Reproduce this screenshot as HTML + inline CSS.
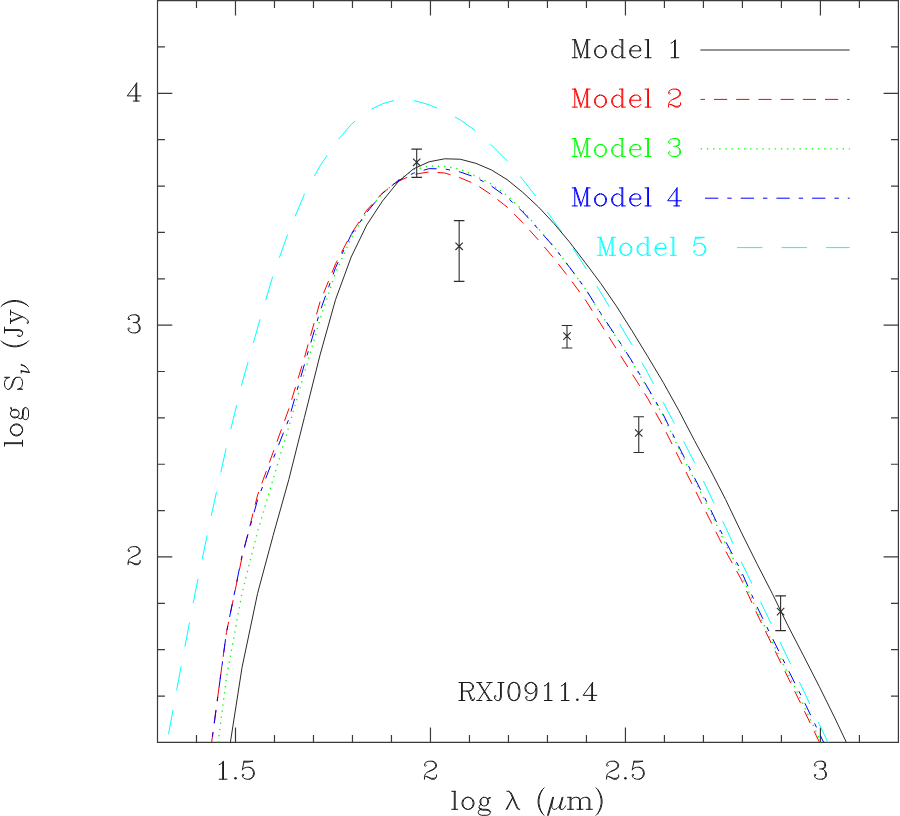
<!DOCTYPE html>
<html lang="en"><head><meta charset="utf-8"><title>RXJ0911.4 SED models</title>
<style>html,body{margin:0;padding:0;background:#fff;font-family:"Liberation Serif",serif}svg{display:block}</style>
</head><body>
<svg width="900" height="816" viewBox="0 0 900 816">
<rect width="900" height="816" fill="#fff"/>
<path d="M157.5 0.6H898.4V742.4H157.5ZM196.49 742.4v-7.4M196.49 0.6v7.4M235.49 742.4v-14.8M235.49 0.6v14.8M274.48 742.4v-7.4M274.48 0.6v7.4M313.48 742.4v-7.4M313.48 0.6v7.4M352.47 742.4v-7.4M352.47 0.6v7.4M391.47 742.4v-7.4M391.47 0.6v7.4M430.46 742.4v-14.8M430.46 0.6v14.8M469.46 742.4v-7.4M469.46 0.6v7.4M508.45 742.4v-7.4M508.45 0.6v7.4M547.45 742.4v-7.4M547.45 0.6v7.4M586.44 742.4v-7.4M586.44 0.6v7.4M625.44 742.4v-14.8M625.44 0.6v14.8M664.43 742.4v-7.4M664.43 0.6v7.4M703.43 742.4v-7.4M703.43 0.6v7.4M742.42 742.4v-7.4M742.42 0.6v7.4M781.42 742.4v-7.4M781.42 0.6v7.4M820.41 742.4v-14.8M820.41 0.6v14.8M859.41 742.4v-7.4M859.41 0.6v7.4M157.5 696.04h7.4M898.4 696.04h-7.4M157.5 649.67h7.4M898.4 649.67h-7.4M157.5 603.31h7.4M898.4 603.31h-7.4M157.5 556.95h14.8M898.4 556.95h-14.8M157.5 510.59h7.4M898.4 510.59h-7.4M157.5 464.23h7.4M898.4 464.23h-7.4M157.5 417.86h7.4M898.4 417.86h-7.4M157.5 371.5h7.4M898.4 371.5h-7.4M157.5 325.14h14.8M898.4 325.14h-14.8M157.5 278.78h7.4M898.4 278.78h-7.4M157.5 232.41h7.4M898.4 232.41h-7.4M157.5 186.05h7.4M898.4 186.05h-7.4M157.5 139.69h7.4M898.4 139.69h-7.4M157.5 93.33h14.8M898.4 93.33h-14.8M157.5 46.96h7.4M898.4 46.96h-7.4" fill="none" stroke="#3a3a3a" stroke-width="1.2"/>
<g><title>1.5</title><path d="M219.21 764.64 220.92 763.79 223.49 761.22 223.49 779.21M222.63 762.07 222.63 779.21M219.21 779.21 226.92 779.21M244.06 761.22 242.35 769.79M242.35 769.79 244.06 768.07 246.63 767.22 249.2 767.22 251.77 768.07 253.49 769.79 254.34 772.36 254.34 774.07 253.49 776.64 251.77 778.36 249.2 779.21 246.63 779.21 244.06 778.36 243.2 777.5 242.35 775.78 242.35 774.93 243.2 774.07 244.06 774.93 243.2 775.78M249.2 767.22 250.92 768.07 252.63 769.79 253.49 772.36 253.49 774.07 252.63 776.64 250.92 778.36 249.2 779.21M244.06 761.22 252.63 761.22M244.06 762.07 248.34 762.07 252.63 761.22" fill="none" stroke="#1a1a1a" stroke-width="1.0" stroke-linecap="round" stroke-linejoin="round"/><circle cx="235.49" cy="778.36" r="1.25" fill="#1a1a1a"/></g>
<g><title>2</title><path d="M425.32 764.64 426.18 765.5 425.32 766.36 424.46 765.5 424.46 764.64 425.32 762.93 426.18 762.07 428.75 761.22 432.18 761.22 434.75 762.07 435.61 762.93 436.46 764.64 436.46 766.36 435.61 768.07 433.03 769.79 428.75 771.5 427.04 772.36 425.32 774.07 424.46 776.64 424.46 779.21M432.18 761.22 433.89 762.07 434.75 762.93 435.61 764.64 435.61 766.36 434.75 768.07 432.18 769.79 428.75 771.5M424.46 777.5 425.32 776.64 427.04 776.64 431.32 778.36 433.89 778.36 435.61 777.5 436.46 776.64M427.04 776.64 431.32 779.21 434.75 779.21 435.61 778.36 436.46 776.64 436.46 774.93" fill="none" stroke="#1a1a1a" stroke-width="1.0" stroke-linecap="round" stroke-linejoin="round"/></g>
<g><title>2.5</title><path d="M607.44 764.64 608.3 765.5 607.44 766.36 606.58 765.5 606.58 764.64 607.44 762.93 608.3 762.07 610.87 761.22 614.3 761.22 616.87 762.07 617.72 762.93 618.58 764.64 618.58 766.36 617.72 768.07 615.15 769.79 610.87 771.5 609.15 772.36 607.44 774.07 606.58 776.64 606.58 779.21M614.3 761.22 616.01 762.07 616.87 762.93 617.72 764.64 617.72 766.36 616.87 768.07 614.3 769.79 610.87 771.5M606.58 777.5 607.44 776.64 609.15 776.64 613.44 778.36 616.01 778.36 617.72 777.5 618.58 776.64M609.15 776.64 613.44 779.21 616.87 779.21 617.72 778.36 618.58 776.64 618.58 774.93M634.01 761.22 632.29 769.79M632.29 769.79 634.01 768.07 636.58 767.22 639.15 767.22 641.72 768.07 643.43 769.79 644.29 772.36 644.29 774.07 643.43 776.64 641.72 778.36 639.15 779.21 636.58 779.21 634.01 778.36 633.15 777.5 632.29 775.78 632.29 774.93 633.15 774.07 634.01 774.93 633.15 775.78M639.15 767.22 640.86 768.07 642.58 769.79 643.43 772.36 643.43 774.07 642.58 776.64 640.86 778.36 639.15 779.21M634.01 761.22 642.58 761.22M634.01 762.07 638.29 762.07 642.58 761.22" fill="none" stroke="#1a1a1a" stroke-width="1.0" stroke-linecap="round" stroke-linejoin="round"/><circle cx="625.44" cy="778.36" r="1.25" fill="#1a1a1a"/></g>
<g><title>3</title><path d="M815.27 764.64 816.13 765.5 815.27 766.36 814.41 765.5 814.41 764.64 815.27 762.93 816.13 762.07 818.7 761.22 822.12 761.22 824.7 762.07 825.55 763.79 825.55 766.36 824.7 768.07 822.12 768.93 819.55 768.93M822.12 761.22 823.84 762.07 824.7 763.79 824.7 766.36 823.84 768.07 822.12 768.93M822.12 768.93 823.84 769.79 825.55 771.5 826.41 773.21 826.41 775.78 825.55 777.5 824.7 778.36 822.12 779.21 818.7 779.21 816.13 778.36 815.27 777.5 814.41 775.78 814.41 774.93 815.27 774.07 816.13 774.93 815.27 775.78M824.7 770.64 825.55 773.21 825.55 775.78 824.7 777.5 823.84 778.36 822.12 779.21" fill="none" stroke="#1a1a1a" stroke-width="1.0" stroke-linecap="round" stroke-linejoin="round"/></g>
<g><title>2</title><path d="M128.99 550.09 129.84 550.95 128.99 551.81 128.13 550.95 128.13 550.09 128.99 548.38 129.84 547.52 132.42 546.67 135.84 546.67 138.41 547.52 139.27 548.38 140.13 550.09 140.13 551.81 139.27 553.52 136.7 555.24 132.42 556.95 130.7 557.81 128.99 559.52 128.13 562.09 128.13 564.66M135.84 546.67 137.56 547.52 138.41 548.38 139.27 550.09 139.27 551.81 138.41 553.52 135.84 555.24 132.42 556.95M128.13 562.95 128.99 562.09 130.7 562.09 134.99 563.81 137.56 563.81 139.27 562.95 140.13 562.09M130.7 562.09 134.99 564.66 138.41 564.66 139.27 563.81 140.13 562.09 140.13 560.38" fill="none" stroke="#1a1a1a" stroke-width="1.0" stroke-linecap="round" stroke-linejoin="round"/></g>
<g><title>3</title><path d="M128.99 318.28 129.84 319.14 128.99 320 128.13 319.14 128.13 318.28 128.99 316.57 129.84 315.71 132.42 314.85 135.84 314.85 138.41 315.71 139.27 317.42 139.27 320 138.41 321.71 135.84 322.57 133.27 322.57M135.84 314.85 137.56 315.71 138.41 317.42 138.41 320 137.56 321.71 135.84 322.57M135.84 322.57 137.56 323.42 139.27 325.14 140.13 326.85 140.13 329.42 139.27 331.14 138.41 331.99 135.84 332.85 132.42 332.85 129.84 331.99 128.99 331.14 128.13 329.42 128.13 328.57 128.99 327.71 129.84 328.57 128.99 329.42M138.41 324.28 139.27 326.85 139.27 329.42 138.41 331.14 137.56 331.99 135.84 332.85" fill="none" stroke="#1a1a1a" stroke-width="1.0" stroke-linecap="round" stroke-linejoin="round"/></g>
<g><title>4</title><path d="M135.84 84.76 135.84 101.04M136.7 83.04 136.7 101.04M136.7 83.04 127.27 95.9 140.99 95.9M133.27 101.04 139.27 101.04" fill="none" stroke="#1a1a1a" stroke-width="1.0" stroke-linecap="round" stroke-linejoin="round"/></g>
<g><title>log &#955; (&#956;m)</title><path d="M454.3 791.32 454.3 809.31M455.16 791.32 455.16 809.31M451.73 791.32 455.16 791.32M451.73 809.31 457.73 809.31M467.15 797.32 464.58 798.17 462.87 799.89 462.01 802.46 462.01 804.17 462.87 806.74 464.58 808.46 467.15 809.31 468.87 809.31 471.44 808.46 473.15 806.74 474.01 804.17 474.01 802.46 473.15 799.89 471.44 798.17 468.87 797.32 467.15 797.32M467.15 797.32 465.44 798.17 463.73 799.89 462.87 802.46 462.87 804.17 463.73 806.74 465.44 808.46 467.15 809.31M468.87 809.31 470.58 808.46 472.3 806.74 473.15 804.17 473.15 802.46 472.3 799.89 470.58 798.17 468.87 797.32M483.44 797.32 481.72 798.17 480.87 799.03 480.01 800.74 480.01 802.46 480.87 804.17 481.72 805.03 483.44 805.88 485.15 805.88 486.86 805.03 487.72 804.17 488.58 802.46 488.58 800.74 487.72 799.03 486.86 798.17 485.15 797.32 483.44 797.32M481.72 798.17 480.87 799.89 480.87 803.31 481.72 805.03M486.86 805.03 487.72 803.31 487.72 799.89 486.86 798.17M487.72 799.03 488.58 798.17 490.29 797.32 490.29 798.17 488.58 798.17M480.87 804.17 480.01 805.03 479.15 806.74 479.15 807.6 480.01 809.31 482.58 810.17 486.86 810.17 489.44 811.03 490.29 811.88M479.15 807.6 480.01 808.46 482.58 809.31 486.86 809.31 489.44 810.17 490.29 811.88 490.29 812.74 489.44 814.46 486.86 815.31 481.72 815.31 479.15 814.46 478.29 812.74 478.29 811.88 479.15 810.17 481.72 809.31M506.93 791.32 508.65 791.32 510.36 792.17 511.22 793.03 512.07 794.74 517.22 806.74 518.07 808.46 518.93 809.31M508.65 791.32 510.36 793.03 511.22 794.74 516.36 806.74 517.22 808.46 518.93 809.31 519.79 809.31M512.93 797.32 506.08 809.31M512.93 797.32 506.93 809.31M544.13 787.89 542.41 789.6 540.7 792.17 538.98 795.6 538.13 799.89 538.13 803.31 538.98 807.6 540.7 811.03 542.41 813.6 544.13 815.31M542.41 789.6 540.7 793.03 539.84 795.6 538.98 799.89 538.98 803.31 539.84 807.6 540.7 810.17 542.41 813.6M552.7 797.32 547.55 815.31M553.55 797.32 548.41 815.31M552.7 799.89 551.84 805.03 551.84 807.6 553.55 809.31 555.27 809.31 556.98 808.46 558.69 806.74 560.41 804.17M562.12 797.32 559.55 806.74 559.55 808.46 560.41 809.31 562.98 809.31 564.69 807.6 565.55 805.88M562.98 797.32 560.41 806.74 560.41 808.46 561.27 809.31M570.09 797.32 570.09 809.31M570.95 797.32 570.95 809.31M570.95 799.89 572.66 798.17 575.23 797.32 576.95 797.32 579.52 798.17 580.38 799.89 580.38 809.31M576.95 797.32 578.66 798.17 579.52 799.89 579.52 809.31M580.38 799.89 582.09 798.17 584.66 797.32 586.38 797.32 588.95 798.17 589.8 799.89 589.8 809.31M586.38 797.32 588.09 798.17 588.95 799.89 588.95 809.31M567.52 797.32 570.95 797.32M567.52 809.31 573.52 809.31M576.95 809.31 582.95 809.31M586.38 809.31 592.37 809.31M596.06 787.89 597.77 789.6 599.49 792.17 601.2 795.6 602.06 799.89 602.06 803.31 601.2 807.6 599.49 811.03 597.77 813.6 596.06 815.31M597.77 789.6 599.49 793.03 600.34 795.6 601.2 799.89 601.2 803.31 600.34 807.6 599.49 810.17 597.77 813.6" fill="none" stroke="#1a1a1a" stroke-width="1.0" stroke-linecap="round" stroke-linejoin="round"/></g>
<g transform="translate(14.8 372.5) rotate(-90)"><title>log S&#957; (Jy)</title><path d="M-71.13 -10.28 -71.13 7.71M-70.27 -10.28 -70.27 7.71M-73.7 -10.28 -70.27 -10.28M-73.7 7.71 -67.7 7.71M-58.28 -4.29 -60.85 -3.43 -62.56 -1.71 -63.42 0.86 -63.42 2.57 -62.56 5.14 -60.85 6.86 -58.28 7.71 -56.56 7.71 -53.99 6.86 -52.28 5.14 -51.42 2.57 -51.42 0.86 -52.28 -1.71 -53.99 -3.43 -56.56 -4.29 -58.28 -4.29M-58.28 -4.29 -59.99 -3.43 -61.7 -1.71 -62.56 0.86 -62.56 2.57 -61.7 5.14 -59.99 6.86 -58.28 7.71M-56.56 7.71 -54.85 6.86 -53.13 5.14 -52.28 2.57 -52.28 0.86 -53.13 -1.71 -54.85 -3.43 -56.56 -4.29M-41.99 -4.29 -43.71 -3.43 -44.56 -2.57 -45.42 -0.86 -45.42 0.86 -44.56 2.57 -43.71 3.43 -41.99 4.29 -40.28 4.29 -38.57 3.43 -37.71 2.57 -36.85 0.86 -36.85 -0.86 -37.71 -2.57 -38.57 -3.43 -40.28 -4.29 -41.99 -4.29M-43.71 -3.43 -44.56 -1.71 -44.56 1.71 -43.71 3.43M-38.57 3.43 -37.71 1.71 -37.71 -1.71 -38.57 -3.43M-37.71 -2.57 -36.85 -3.43 -35.14 -4.29 -35.14 -3.43 -36.85 -3.43M-44.56 2.57 -45.42 3.43 -46.28 5.14 -46.28 6 -45.42 7.71 -42.85 8.57 -38.57 8.57 -35.99 9.43 -35.14 10.28M-46.28 6 -45.42 6.86 -42.85 7.71 -38.57 7.71 -35.99 8.57 -35.14 10.28 -35.14 11.14 -35.99 12.86 -38.57 13.71 -43.71 13.71 -46.28 12.86 -47.14 11.14 -47.14 10.28 -46.28 8.57 -43.71 7.71M-5.66 -7.71 -4.8 -10.28 -4.8 -5.14 -5.66 -7.71 -7.37 -9.43 -9.94 -10.28 -12.51 -10.28 -15.08 -9.43 -16.8 -7.71 -16.8 -6 -15.94 -4.29 -15.08 -3.43 -13.37 -2.57 -8.23 -0.86 -6.51 0 -4.8 1.71M-16.8 -6 -15.08 -4.29 -13.37 -3.43 -8.23 -1.71 -6.51 -0.86 -5.66 0 -4.8 1.71 -4.8 5.14 -6.51 6.86 -9.08 7.71 -11.66 7.71 -14.23 6.86 -15.94 5.14 -16.8 2.57 -16.8 7.71 -15.94 5.14M1.17 6.43 0.03 14.35M1.73 6.43 1.17 9.82 0.6 12.65 0.03 14.35M7.39 6.43 6.82 8.69 5.69 10.95M7.95 6.43 7.39 8.12 6.82 9.26 5.69 10.95 4.56 12.08 2.86 13.21 1.73 13.78 0.03 14.35M-0.53 6.43 1.73 6.43M31.71 -13.71 29.99 -12 28.28 -9.43 26.57 -6 25.71 -1.71 25.71 1.71 26.57 6 28.28 9.43 29.99 12 31.71 13.71M29.99 -12 28.28 -8.57 27.42 -6 26.57 -1.71 26.57 1.71 27.42 6 28.28 8.57 29.99 12M42.85 -10.28 42.85 4.29 41.99 6.86 40.28 7.71 38.57 7.71 36.85 6.86 35.99 5.14 35.99 3.43 36.85 2.57 37.71 3.43 36.85 4.29M41.99 -10.28 41.99 4.29 41.14 6.86 40.28 7.71M39.42 -10.28 45.42 -10.28M50.56 -4.29 55.71 7.71M51.42 -4.29 55.71 6M60.85 -4.29 55.71 7.71 53.99 11.14 52.28 12.86 50.56 13.71 49.71 13.71 48.85 12.86 49.71 12 50.56 12.86M48.85 -4.29 53.99 -4.29M57.42 -4.29 62.56 -4.29M65.99 -13.71 67.7 -12 69.42 -9.43 71.13 -6 71.99 -1.71 71.99 1.71 71.13 6 69.42 9.43 67.7 12 65.99 13.71M67.7 -12 69.42 -8.57 70.27 -6 71.13 -1.71 71.13 1.71 70.27 6 69.42 8.57 67.7 12" fill="none" stroke="#1a1a1a" stroke-width="1.0" stroke-linecap="round" stroke-linejoin="round"/></g>
<g><title>RXJ0911.4</title><path d="M461.49 682.52 461.49 700.51M462.34 682.52 462.34 700.51M458.91 682.52 469.2 682.52 471.77 683.37 472.63 684.23 473.48 685.94 473.48 687.66 472.63 689.37 471.77 690.23 469.2 691.09 462.34 691.09M469.2 682.52 470.91 683.37 471.77 684.23 472.63 685.94 472.63 687.66 471.77 689.37 470.91 690.23 469.2 691.09M458.91 700.51 464.91 700.51M466.63 691.09 468.34 691.94 469.2 692.8 471.77 698.8 472.63 699.66 473.48 699.66 474.34 698.8M468.34 691.94 469.2 693.66 470.91 699.66 471.77 700.51 473.48 700.51 474.34 698.8 474.34 697.94M478.4 682.52 489.55 700.51M479.26 682.52 490.4 700.51M490.4 682.52 478.4 700.51M476.69 682.52 481.83 682.52M486.97 682.52 492.12 682.52M476.69 700.51 481.83 700.51M486.97 700.51 492.12 700.51M501.32 682.52 501.32 697.08 500.47 699.66 498.75 700.51 497.04 700.51 495.32 699.66 494.47 697.94 494.47 696.23 495.32 695.37 496.18 696.23 495.32 697.08M500.47 682.52 500.47 697.08 499.61 699.66 498.75 700.51M497.9 682.52 503.89 682.52M513.1 682.52 510.53 683.37 508.82 685.94 507.96 690.23 507.96 692.8 508.82 697.08 510.53 699.66 513.1 700.51 514.82 700.51 517.39 699.66 519.1 697.08 519.96 692.8 519.96 690.23 519.1 685.94 517.39 683.37 514.82 682.52 513.1 682.52M513.1 682.52 511.39 683.37 510.53 684.23 509.67 685.94 508.82 690.23 508.82 692.8 509.67 697.08 510.53 698.8 511.39 699.66 513.1 700.51M514.82 700.51 516.53 699.66 517.39 698.8 518.24 697.08 519.1 692.8 519.1 690.23 518.24 685.94 517.39 684.23 516.53 683.37 514.82 682.52M536.02 688.51 535.16 691.09 533.45 692.8 530.88 693.66 530.02 693.66 527.45 692.8 525.74 691.09 524.88 688.51 524.88 687.66 525.74 685.09 527.45 683.37 530.02 682.52 531.74 682.52 534.31 683.37 536.02 685.09 536.88 687.66 536.88 692.8 536.02 696.23 535.16 697.94 533.45 699.66 530.88 700.51 528.31 700.51 526.59 699.66 525.74 697.94 525.74 697.08 526.59 696.23 527.45 697.08 526.59 697.94M530.02 693.66 528.31 692.8 526.59 691.09 525.74 688.51 525.74 687.66 526.59 685.09 528.31 683.37 530.02 682.52M531.74 682.52 533.45 683.37 535.16 685.09 536.02 687.66 536.02 692.8 535.16 696.23 534.31 697.94 532.59 699.66 530.88 700.51M544.37 685.94 546.08 685.09 548.66 682.52 548.66 700.51M547.8 683.37 547.8 700.51M544.37 700.51 552.08 700.51M561.29 685.94 563 685.09 565.58 682.52 565.58 700.51M564.72 683.37 564.72 700.51M561.29 700.51 569 700.51M591.7 684.23 591.7 700.51M592.56 682.52 592.56 700.51M592.56 682.52 583.13 695.37 596.85 695.37M589.13 700.51 595.13 700.51" fill="none" stroke="#1a1a1a" stroke-width="1.0" stroke-linecap="round" stroke-linejoin="round"/><circle cx="577.35" cy="699.66" r="1.25" fill="#1a1a1a"/></g>
<g><title>Model 1</title><path d="M574.78 39.72 574.78 57.71M575.64 39.72 580.78 55.14M574.78 39.72 580.78 57.71M586.78 39.72 580.78 57.71M586.78 39.72 586.78 57.71M587.64 39.72 587.64 57.71M572.21 39.72 575.64 39.72M586.78 39.72 590.21 39.72M572.21 57.71 577.36 57.71M584.21 57.71 590.21 57.71M599.64 45.72 597.07 46.57 595.35 48.29 594.5 50.86 594.5 52.57 595.35 55.14 597.07 56.86 599.64 57.71 601.35 57.71 603.92 56.86 605.64 55.14 606.49 52.57 606.49 50.86 605.64 48.29 603.92 46.57 601.35 45.72 599.64 45.72M599.64 45.72 597.92 46.57 596.21 48.29 595.35 50.86 595.35 52.57 596.21 55.14 597.92 56.86 599.64 57.71M601.35 57.71 603.07 56.86 604.78 55.14 605.64 52.57 605.64 50.86 604.78 48.29 603.07 46.57 601.35 45.72M621.92 39.72 621.92 57.71M622.78 39.72 622.78 57.71M621.92 48.29 620.21 46.57 618.49 45.72 616.78 45.72 614.21 46.57 612.49 48.29 611.64 50.86 611.64 52.57 612.49 55.14 614.21 56.86 616.78 57.71 618.49 57.71 620.21 56.86 621.92 55.14M616.78 45.72 615.06 46.57 613.35 48.29 612.49 50.86 612.49 52.57 613.35 55.14 615.06 56.86 616.78 57.71M619.35 39.72 622.78 39.72M621.92 57.71 625.35 57.71M630.49 50.86 640.77 50.86 640.77 49.14 639.92 47.43 639.06 46.57 637.35 45.72 634.77 45.72 632.2 46.57 630.49 48.29 629.63 50.86 629.63 52.57 630.49 55.14 632.2 56.86 634.77 57.71 636.49 57.71 639.06 56.86 640.77 55.14M639.92 50.86 639.92 48.29 639.06 46.57M634.77 45.72 633.06 46.57 631.35 48.29 630.49 50.86 630.49 52.57 631.35 55.14 633.06 56.86 634.77 57.71M647.63 39.72 647.63 57.71M648.49 39.72 648.49 57.71M645.06 39.72 648.49 39.72M645.06 57.71 651.06 57.71M671.11 43.14 672.83 42.29 675.4 39.72 675.4 57.71M674.54 40.57 674.54 57.71M671.11 57.71 678.82 57.71" fill="none" stroke="#1a1a1a" stroke-width="1.0" stroke-linecap="round" stroke-linejoin="round"/></g>
<g><title>Model 2</title><path d="M574.78 89.12 574.78 107.11M575.64 89.12 580.78 104.54M574.78 89.12 580.78 107.11M586.78 89.12 580.78 107.11M586.78 89.12 586.78 107.11M587.64 89.12 587.64 107.11M572.21 89.12 575.64 89.12M586.78 89.12 590.21 89.12M572.21 107.11 577.36 107.11M584.21 107.11 590.21 107.11M599.64 95.12 597.07 95.97 595.35 97.69 594.5 100.26 594.5 101.97 595.35 104.54 597.07 106.26 599.64 107.11 601.35 107.11 603.92 106.26 605.64 104.54 606.49 101.97 606.49 100.26 605.64 97.69 603.92 95.97 601.35 95.12 599.64 95.12M599.64 95.12 597.92 95.97 596.21 97.69 595.35 100.26 595.35 101.97 596.21 104.54 597.92 106.26 599.64 107.11M601.35 107.11 603.07 106.26 604.78 104.54 605.64 101.97 605.64 100.26 604.78 97.69 603.07 95.97 601.35 95.12M621.92 89.12 621.92 107.11M622.78 89.12 622.78 107.11M621.92 97.69 620.21 95.97 618.49 95.12 616.78 95.12 614.21 95.97 612.49 97.69 611.64 100.26 611.64 101.97 612.49 104.54 614.21 106.26 616.78 107.11 618.49 107.11 620.21 106.26 621.92 104.54M616.78 95.12 615.06 95.97 613.35 97.69 612.49 100.26 612.49 101.97 613.35 104.54 615.06 106.26 616.78 107.11M619.35 89.12 622.78 89.12M621.92 107.11 625.35 107.11M630.49 100.26 640.77 100.26 640.77 98.54 639.92 96.83 639.06 95.97 637.35 95.12 634.77 95.12 632.2 95.97 630.49 97.69 629.63 100.26 629.63 101.97 630.49 104.54 632.2 106.26 634.77 107.11 636.49 107.11 639.06 106.26 640.77 104.54M639.92 100.26 639.92 97.69 639.06 95.97M634.77 95.12 633.06 95.97 631.35 97.69 630.49 100.26 630.49 101.97 631.35 104.54 633.06 106.26 634.77 107.11M647.63 89.12 647.63 107.11M648.49 89.12 648.49 107.11M645.06 89.12 648.49 89.12M645.06 107.11 651.06 107.11M669.4 92.54 670.25 93.4 669.4 94.26 668.54 93.4 668.54 92.54 669.4 90.83 670.25 89.97 672.83 89.12 676.25 89.12 678.82 89.97 679.68 90.83 680.54 92.54 680.54 94.26 679.68 95.97 677.11 97.69 672.83 99.4 671.11 100.26 669.4 101.97 668.54 104.54 668.54 107.11M676.25 89.12 677.97 89.97 678.82 90.83 679.68 92.54 679.68 94.26 678.82 95.97 676.25 97.69 672.83 99.4M668.54 105.4 669.4 104.54 671.11 104.54 675.4 106.26 677.97 106.26 679.68 105.4 680.54 104.54M671.11 104.54 675.4 107.11 678.82 107.11 679.68 106.26 680.54 104.54 680.54 102.83" fill="none" stroke="#ff0000" stroke-width="1.0" stroke-linecap="round" stroke-linejoin="round"/></g>
<g><title>Model 3</title><path d="M574.78 138.52 574.78 156.51M575.64 138.52 580.78 153.94M574.78 138.52 580.78 156.51M586.78 138.52 580.78 156.51M586.78 138.52 586.78 156.51M587.64 138.52 587.64 156.51M572.21 138.52 575.64 138.52M586.78 138.52 590.21 138.52M572.21 156.51 577.36 156.51M584.21 156.51 590.21 156.51M599.64 144.52 597.07 145.37 595.35 147.09 594.5 149.66 594.5 151.37 595.35 153.94 597.07 155.66 599.64 156.51 601.35 156.51 603.92 155.66 605.64 153.94 606.49 151.37 606.49 149.66 605.64 147.09 603.92 145.37 601.35 144.52 599.64 144.52M599.64 144.52 597.92 145.37 596.21 147.09 595.35 149.66 595.35 151.37 596.21 153.94 597.92 155.66 599.64 156.51M601.35 156.51 603.07 155.66 604.78 153.94 605.64 151.37 605.64 149.66 604.78 147.09 603.07 145.37 601.35 144.52M621.92 138.52 621.92 156.51M622.78 138.52 622.78 156.51M621.92 147.09 620.21 145.37 618.49 144.52 616.78 144.52 614.21 145.37 612.49 147.09 611.64 149.66 611.64 151.37 612.49 153.94 614.21 155.66 616.78 156.51 618.49 156.51 620.21 155.66 621.92 153.94M616.78 144.52 615.06 145.37 613.35 147.09 612.49 149.66 612.49 151.37 613.35 153.94 615.06 155.66 616.78 156.51M619.35 138.52 622.78 138.52M621.92 156.51 625.35 156.51M630.49 149.66 640.77 149.66 640.77 147.94 639.92 146.23 639.06 145.37 637.35 144.52 634.77 144.52 632.2 145.37 630.49 147.09 629.63 149.66 629.63 151.37 630.49 153.94 632.2 155.66 634.77 156.51 636.49 156.51 639.06 155.66 640.77 153.94M639.92 149.66 639.92 147.09 639.06 145.37M634.77 144.52 633.06 145.37 631.35 147.09 630.49 149.66 630.49 151.37 631.35 153.94 633.06 155.66 634.77 156.51M647.63 138.52 647.63 156.51M648.49 138.52 648.49 156.51M645.06 138.52 648.49 138.52M645.06 156.51 651.06 156.51M669.4 141.94 670.25 142.8 669.4 143.66 668.54 142.8 668.54 141.94 669.4 140.23 670.25 139.37 672.83 138.52 676.25 138.52 678.82 139.37 679.68 141.09 679.68 143.66 678.82 145.37 676.25 146.23 673.68 146.23M676.25 138.52 677.97 139.37 678.82 141.09 678.82 143.66 677.97 145.37 676.25 146.23M676.25 146.23 677.97 147.09 679.68 148.8 680.54 150.51 680.54 153.09 679.68 154.8 678.82 155.66 676.25 156.51 672.83 156.51 670.25 155.66 669.4 154.8 668.54 153.09 668.54 152.23 669.4 151.37 670.25 152.23 669.4 153.09M678.82 147.94 679.68 150.51 679.68 153.09 678.82 154.8 677.97 155.66 676.25 156.51" fill="none" stroke="#00ff00" stroke-width="1.0" stroke-linecap="round" stroke-linejoin="round"/></g>
<g><title>Model 4</title><path d="M574.78 187.92 574.78 205.91M575.64 187.92 580.78 203.34M574.78 187.92 580.78 205.91M586.78 187.92 580.78 205.91M586.78 187.92 586.78 205.91M587.64 187.92 587.64 205.91M572.21 187.92 575.64 187.92M586.78 187.92 590.21 187.92M572.21 205.91 577.36 205.91M584.21 205.91 590.21 205.91M599.64 193.91 597.07 194.77 595.35 196.49 594.5 199.06 594.5 200.77 595.35 203.34 597.07 205.06 599.64 205.91 601.35 205.91 603.92 205.06 605.64 203.34 606.49 200.77 606.49 199.06 605.64 196.49 603.92 194.77 601.35 193.91 599.64 193.91M599.64 193.91 597.92 194.77 596.21 196.49 595.35 199.06 595.35 200.77 596.21 203.34 597.92 205.06 599.64 205.91M601.35 205.91 603.07 205.06 604.78 203.34 605.64 200.77 605.64 199.06 604.78 196.49 603.07 194.77 601.35 193.91M621.92 187.92 621.92 205.91M622.78 187.92 622.78 205.91M621.92 196.49 620.21 194.77 618.49 193.91 616.78 193.91 614.21 194.77 612.49 196.49 611.64 199.06 611.64 200.77 612.49 203.34 614.21 205.06 616.78 205.91 618.49 205.91 620.21 205.06 621.92 203.34M616.78 193.91 615.06 194.77 613.35 196.49 612.49 199.06 612.49 200.77 613.35 203.34 615.06 205.06 616.78 205.91M619.35 187.92 622.78 187.92M621.92 205.91 625.35 205.91M630.49 199.06 640.77 199.06 640.77 197.34 639.92 195.63 639.06 194.77 637.35 193.91 634.77 193.91 632.2 194.77 630.49 196.49 629.63 199.06 629.63 200.77 630.49 203.34 632.2 205.06 634.77 205.91 636.49 205.91 639.06 205.06 640.77 203.34M639.92 199.06 639.92 196.49 639.06 194.77M634.77 193.91 633.06 194.77 631.35 196.49 630.49 199.06 630.49 200.77 631.35 203.34 633.06 205.06 634.77 205.91M647.63 187.92 647.63 205.91M648.49 187.92 648.49 205.91M645.06 187.92 648.49 187.92M645.06 205.91 651.06 205.91M676.25 189.63 676.25 205.91M677.11 187.92 677.11 205.91M677.11 187.92 667.68 200.77 681.4 200.77M673.68 205.91 679.68 205.91" fill="none" stroke="#0000ff" stroke-width="1.0" stroke-linecap="round" stroke-linejoin="round"/></g>
<g><title>Model 5</title><path d="M600.08 237.32 600.08 255.31M600.94 237.32 606.08 252.74M600.08 237.32 606.08 255.31M612.08 237.32 606.08 255.31M612.08 237.32 612.08 255.31M612.94 237.32 612.94 255.31M597.51 237.32 600.94 237.32M612.08 237.32 615.51 237.32M597.51 255.31 602.66 255.31M609.51 255.31 615.51 255.31M624.94 243.31 622.37 244.17 620.65 245.89 619.8 248.46 619.8 250.17 620.65 252.74 622.37 254.46 624.94 255.31 626.65 255.31 629.22 254.46 630.94 252.74 631.79 250.17 631.79 248.46 630.94 245.89 629.22 244.17 626.65 243.31 624.94 243.31M624.94 243.31 623.22 244.17 621.51 245.89 620.65 248.46 620.65 250.17 621.51 252.74 623.22 254.46 624.94 255.31M626.65 255.31 628.37 254.46 630.08 252.74 630.94 250.17 630.94 248.46 630.08 245.89 628.37 244.17 626.65 243.31M647.22 237.32 647.22 255.31M648.08 237.32 648.08 255.31M647.22 245.89 645.51 244.17 643.79 243.31 642.08 243.31 639.51 244.17 637.79 245.89 636.94 248.46 636.94 250.17 637.79 252.74 639.51 254.46 642.08 255.31 643.79 255.31 645.51 254.46 647.22 252.74M642.08 243.31 640.36 244.17 638.65 245.89 637.79 248.46 637.79 250.17 638.65 252.74 640.36 254.46 642.08 255.31M644.65 237.32 648.08 237.32M647.22 255.31 650.65 255.31M655.79 248.46 666.07 248.46 666.07 246.74 665.22 245.03 664.36 244.17 662.65 243.31 660.07 243.31 657.5 244.17 655.79 245.89 654.93 248.46 654.93 250.17 655.79 252.74 657.5 254.46 660.07 255.31 661.79 255.31 664.36 254.46 666.07 252.74M665.22 248.46 665.22 245.89 664.36 244.17M660.07 243.31 658.36 244.17 656.65 245.89 655.79 248.46 655.79 250.17 656.65 252.74 658.36 254.46 660.07 255.31M672.93 237.32 672.93 255.31M673.79 237.32 673.79 255.31M670.36 237.32 673.79 237.32M670.36 255.31 676.36 255.31M695.55 237.32 693.84 245.89M693.84 245.89 695.55 244.17 698.13 243.31 700.7 243.31 703.27 244.17 704.98 245.89 705.84 248.46 705.84 250.17 704.98 252.74 703.27 254.46 700.7 255.31 698.13 255.31 695.55 254.46 694.7 253.6 693.84 251.88 693.84 251.03 694.7 250.17 695.55 251.03 694.7 251.88M700.7 243.31 702.41 244.17 704.12 245.89 704.98 248.46 704.98 250.17 704.12 252.74 702.41 254.46 700.7 255.31M695.55 237.32 704.12 237.32M695.55 238.17 699.84 238.17 704.12 237.32" fill="none" stroke="#00ffff" stroke-width="1.0" stroke-linecap="round" stroke-linejoin="round"/></g>
<path d="M700.4 50H849.6" stroke="#2a2a2a" stroke-width="1.0" fill="none"/>
<path d="M700.4 99.4H849.6" stroke="#f00" stroke-width="1.0" fill="none" stroke-dasharray="13.2 9" stroke-dashoffset="8.6"/>
<path d="M700.7 148.9H849.8" stroke="#0f0" stroke-width="1.2" fill="none" stroke-dasharray="1.35 4.82"/>
<path d="M700.4 198.2H849.6" stroke="#00f" stroke-width="1.0" fill="none" stroke-dasharray="13.3 9 4.4 9" stroke-dashoffset="31.1"/>
<path d="M737 247.6H849.6" stroke="#0ff" stroke-width="1.0" fill="none" stroke-dasharray="25.4 19.2"/>
<path d="M168.5 734.3 179.6 674.48 195.2 592.64 210.8 517.84 226.4 446.92 242 383.55 257.6 327.9 273.2 274.8 288.8 231.31 304.4 194.29 320 165.91 335.6 142.87 351.2 124.42 366.8 111.42 382.4 103.82 398 99.32 413.6 100.38 429.2 104.78 444.8 111.31 460.4 120.01 476 131.11 491.6 145.19 507.2 160.9 522.8 179.58 538.4 199.54 554 221.35 569.6 242.95 585.2 267.05 600.8 292.45 616.4 318.51 632 344.94 647.6 372.61 663.2 402.3 678.8 431.99 694.4 462.4 710 494.8 725.6 527.37 741.2 561.51 756.8 594.16 772.4 626.22 788 658.64 803.6 690.76 819.2 724.27 828 742.4" fill="none" stroke="#0ff" stroke-width="1.0" stroke-linejoin="round" stroke-dasharray="24.6 19.9" stroke-dashoffset="44.41"/>
<path d="M218.18 742.4 226.4 677.83 242 593.13 257.6 531.38 273.2 478.87 288.8 426.78 304.4 373.2 320 319.53 335.6 272.62 351.2 237.9 366.8 212.03 382.4 193.38 398 180.39 413.6 169.68 429.2 166.19 444.8 166.32 460.4 169.3 476 176.12 491.6 184.01 507.2 195.68 522.8 210.48 538.4 228.58 554 246.74 569.6 267.41 585.2 288.63 600.8 313.89 616.4 337.55 632 362.04 647.6 388.51 663.2 415.99 678.8 448.51 694.4 479.81 710 510.97 725.6 544.08 741.2 574.6 756.8 610.28 772.4 642.32 788 673.69 803.6 705.27 819.2 738.28 821.06 742.4" fill="none" stroke="#0f0" stroke-width="1.3" stroke-linejoin="round" stroke-dasharray="1.35 4.82" stroke-dashoffset="0"/>
<path d="M211.61 742.4 226.4 632.69 242 557.3 257.6 495.09 273.2 452.09 288.8 409.04 304.4 357.84 320 301.91 335.6 263.79 351.2 233.85 366.8 210.1 382.4 193.07 398 181.39 413.6 174.47 429.2 171.89 444.8 173 460.4 177.87 476 184.45 491.6 194.93 507.2 207.11 522.8 222.65 538.4 239.98 554 258.33 569.6 278.42 585.2 299.59 600.8 324.12 616.4 348.86 632 373.76 647.6 398.24 663.2 426.39 678.8 457.58 694.4 488.8 710 520.04 725.6 551.08 741.2 579.31 756.8 613.49 772.4 645.34 788 677.56 803.6 709.38 819.2 741.78 819.49 742.4" fill="none" stroke="#f00" stroke-width="1.0" stroke-linejoin="round" stroke-dasharray="13.2 9.035" stroke-dashoffset="2.65"/>
<path d="M211.67 742.4 226.4 632.86 242 555.77 257.6 499.76 273.2 458.78 288.8 419.2 304.4 364.46 320 311.53 335.6 267.51 351.2 234.66 366.8 212.31 382.4 193.37 398 180.69 413.6 173.11 429.2 168.64 444.8 168.95 460.4 172.05 476 177.5 491.6 186.19 507.2 197.51 522.8 211.87 538.4 229.29 554 247.07 569.6 267.31 585.2 288.33 600.8 313.45 616.4 336.94 632 361.18 647.6 387.49 663.2 414.42 678.8 446.55 694.4 477.67 710 508.21 725.6 541.3 741.2 571.05 756.8 606.33 772.4 638.36 788 669.44 803.6 700.55 819.2 732.99 823.64 742.4" fill="none" stroke="#00f" stroke-width="1.0" stroke-linejoin="round" stroke-dasharray="13.3 9.072 4.4 9.072" stroke-dashoffset="16.69"/>
<path d="M230.36 742.4 242 667.62 257.6 593.26 273.2 535.28 288.8 479.59 304.4 417.48 320 355.08 335.6 299.49 351.2 256.98 366.8 224.89 382.4 201.13 398 181.98 413.6 168.8 429.2 161.76 444.8 158.79 460.4 159.26 476 163.38 491.6 170.03 507.2 179.69 522.8 192.39 538.4 206.88 554 223.58 569.6 242.11 585.2 262.56 600.8 283.45 616.4 306.11 632 330.74 647.6 356.27 663.2 382.34 678.8 410.41 694.4 440.37 710 469.22 725.6 499.53 741.2 532.1 756.8 563.44 772.4 593.76 788 625.78 803.6 655.91 819.2 686.36 834.8 717.94 846.4 742.4" fill="none" stroke="#2a2a2a" stroke-width="1.0" stroke-linejoin="round"/>
<path d="M416.7 149.1V177.4M411.4 149.1h10.6M411.4 177.4h10.6M413 158.6l7.4 7.4M413 166l7.4 -7.4M459.15 220.6V281.4M453.85 220.6h10.6M453.85 281.4h10.6M455.45 242.6l7.4 7.4M455.45 250l7.4 -7.4M567 325.5V348M561.7 325.5h10.6M561.7 348h10.6M563.3 332.4l7.4 7.4M563.3 339.8l7.4 -7.4M638.75 416.8V452.5M633.45 416.8h10.6M633.45 452.5h10.6M635.05 429.3l7.4 7.4M635.05 436.7l7.4 -7.4M780.6 595.9V630.6M775.3 595.9h10.6M775.3 630.6h10.6M776.9 607.9l7.4 7.4M776.9 615.3l7.4 -7.4" fill="none" stroke="#2e2e2e" stroke-width="1.1"/>
</svg>
</body></html>
